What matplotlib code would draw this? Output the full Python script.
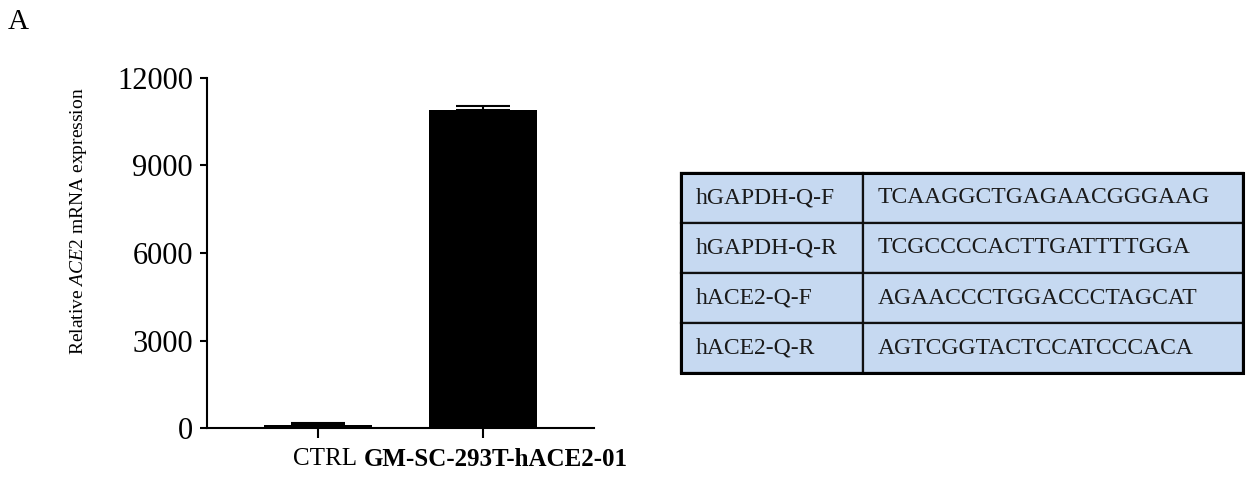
import numpy as np
import matplotlib
matplotlib.use('Agg')
from matplotlib import pyplot as plt
import matplotlib.transforms as mtransforms

plt.rcParams['font.family'] = 'Liberation Serif'
plt.rcParams['mathtext.fontset'] = 'custom'
plt.rcParams['mathtext.rm'] = 'Liberation Serif'
plt.rcParams['mathtext.it'] = 'Liberation Serif:italic'

groups = ['CTRL', 'GM-SC-293T-hACE2-01']
expression = [120, 10900]
expression_err = [40, 130]
yticks = [0, 3000, 6000, 9000, 12000]

primer_names = ['hGAPDH-Q-F', 'hGAPDH-Q-R', 'hACE2-Q-F', 'hACE2-Q-R']
primer_seqs = ['TCAAGGCTGAGAACGGGAAG', 'TCGCCCCACTTGATTTTGGA',
               'AGAACCCTGGACCCTAGCAT', 'AGTCGGTACTCCATCCCACA']

W, H = 1251, 479
fig = plt.figure(figsize=(W / 100, H / 100), dpi=100)

# bar chart
ax = fig.add_axes([207 / W, (H - 428) / H, (594 - 207) / W, 350 / H])
x = np.arange(len(groups))
ax.bar(x, expression, width=0.656, color='black')
ax.errorbar(x, expression, yerr=[[0, 0], expression_err], fmt='none',
            ecolor='black', elinewidth=1.5, capsize=19.5, capthick=1.5)
ax.set_xlim(-0.674, 1.676)
ax.set_ylim(0, 12000)
ax.set_yticks(yticks)
ax.set_xticks(x)
ax.set_xticklabels(groups)
ax.get_xticklabels()[1].set_fontweight('bold')
for s in ['top', 'right']:
    ax.spines[s].set_visible(False)
for s in ['left', 'bottom']:
    ax.spines[s].set_linewidth(1.5)
ax.tick_params(axis='y', labelsize=22, length=5, width=1.5, pad=5)
ax.tick_params(axis='x', labelsize=18, length=7, width=1.5, pad=7.5)
# labels sit a little right of their ticks in the original
for lab, dx in zip(ax.get_xticklabels(), [0.07, 0.13]):
    shift = mtransforms.ScaledTranslation(dx, 0, fig.dpi_scale_trans)
    lab.set_transform(lab.get_transform() + shift)
ax.set_ylabel(r'Relative $\mathit{ACE2}$ mRNA expression', fontsize=14)
ax.yaxis.set_label_coords(-0.305, 0.59)

fig.text(8 / W, 1 - 29 / H, 'A', fontsize=21, ha='left', va='baseline')

# primer table
tax = fig.add_axes([681 / W, (H - 373) / H, 562 / W, 200 / H])
tax.axis('off')
cells = [[n, s] for n, s in zip(primer_names, primer_seqs)]
tbl = tax.table(cellText=cells, cellLoc='left', bbox=[0, 0, 1, 1],
                colWidths=[182 / 562, 380 / 562])
tbl.auto_set_font_size(False)
for (r, c), cell in tbl.get_celld().items():
    cell.set_facecolor('#C6D9F1')
    cell.set_edgecolor('#111111')
    cell.set_linewidth(1.6)
    cell.PAD = 0.082 if c == 0 else 0.039
    cell.get_text().set_fontsize(17)
    cell.get_text().set_color('#1a1a1a')
tax.add_patch(plt.Rectangle((0, 0), 1, 1, transform=tax.transAxes, fill=False,
                            edgecolor='black', linewidth=2.2, clip_on=False))

fig.savefig('out.png', dpi=100)
